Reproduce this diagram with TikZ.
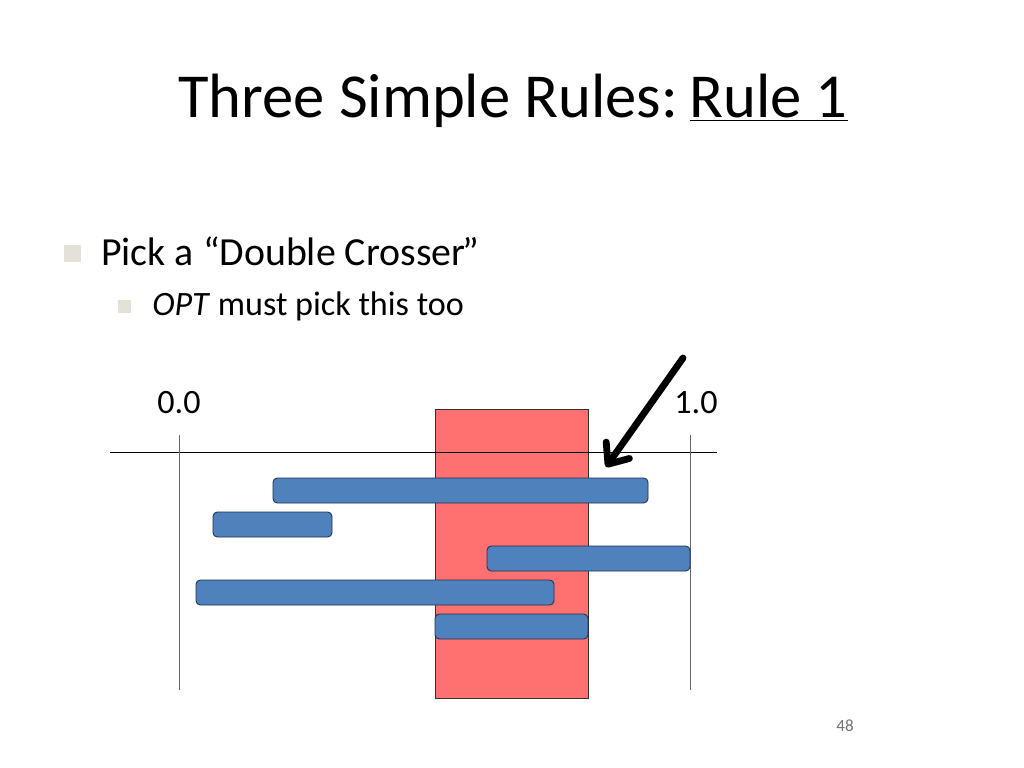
\documentclass[tikz,border=0pt]{standalone}
\usepackage{fontspec}
\setmainfont{Carlito}
\usetikzlibrary{arrows.meta, positioning}
\definecolor{crosser}{HTML}{FF7171}
\definecolor{interval}{HTML}{4F81BD}
\definecolor{intervaledge}{HTML}{1F2F4F}
\definecolor{bulletgray}{HTML}{E4E2D8}
\tikzset{
  interval/.style = {draw=intervaledge, fill=interval, rounded corners=3pt, line width=0.6pt},
  window/.style = {draw=black!80, fill=crosser, line width=0.5pt},
  axis/.style = {draw=black, line width=0.6pt},
  bullet/.style = {fill=bulletgray},
  pointer/.style = {line width=4.8pt, line cap=round, -{Straight Barb[length=12pt, width=20pt, round]}},
}

\begin{document}
\begin{tikzpicture}[x=0.703125pt, y=-0.703125pt]
    \useasboundingbox (0,0) rectangle (1024,768);

    \node[anchor=base, font=\fontsize{44}{50}\selectfont] (title) at (513,118)
        {Three Simple Rules:\kern-2pt\ \underline{Rule 1}};

    \fill[bullet] (64,245) rectangle (81,262);
    \node[anchor=base west, font=\fontsize{28}{34}\selectfont, inner sep=0pt] (pick) at (101,266)
        {Pick a “Double Crosser\kern-2pt”};
    \fill[bullet] (118,300) rectangle (131,313);
    \node[anchor=base west, font=\fontsize{24}{30}\selectfont, inner sep=0pt] (opt) at (152,316)
        {\textit{OPT} must pick this too};

    % the red window
    \draw[window] (435,409) rectangle (588,698);

    % the line and its ends
    \draw[axis] (110,452) -- (717,452);
    \draw[axis, draw=black!60] (179,435) -- (179,690);
    \draw[axis, draw=black!60] (690,435) -- (690,690);
    \node[anchor=base, font=\fontsize{24}{28}\selectfont] (zero) at (179,413) {0.0};
    \node[anchor=base, font=\fontsize{24}{28}\selectfont] (one) at (696,413) {1.0};

    % intervals
    \draw[interval] (273,478) rectangle (648,503);
    \draw[interval] (213,512) rectangle (332,537);
    \draw[interval] (487,546) rectangle (690,571);
    \draw[interval] (196,580) rectangle (554,605);
    \draw[interval] (435,614) rectangle (588,639);

    \coordinate (from) at (683,358);
    \coordinate (to) at (606,467);
    \draw[pointer] (from) -- (to);

    \node[anchor=base, font=\fontsize{12}{14}\selectfont, text=black!55] (page) at (845,731) {48};
\end{tikzpicture}
\end{document}
